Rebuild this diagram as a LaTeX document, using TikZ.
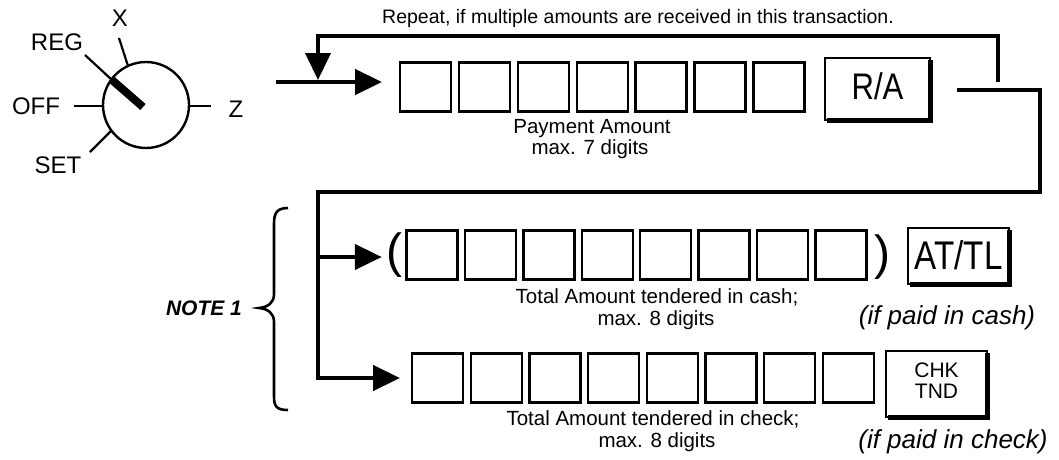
\documentclass[tikz,border=0pt]{standalone}
\usepackage{fontspec}
\setmainfont{Liberation Sans}
\usepackage{graphicx}
\usetikzlibrary{arrows.meta}
\begin{document}
\begin{tikzpicture}[x=1pt,y=-1pt,
  conn/.style={line width=4.5pt, -{Triangle[length=27pt,width=25pt]}},
  digit/.style={draw, line width=2.4pt, minimum width=51pt, minimum height=49pt, inner sep=0pt, outer sep=0pt},
  keybox/.style={draw, line width=2.4pt, inner sep=0pt, outer sep=0pt},
  keyshadow/.style={line width=5pt},
  txt/.style={font=\fontsize{20.5}{18.5}\selectfont, inner sep=0pt, anchor=base},
  dial/.style={font=\fontsize{24}{24}\selectfont, inner sep=0pt},
  tick/.style={line width=2.2pt},
  paren/.style={font=\fontsize{48}{48}\selectfont, inner sep=0pt},
  ifnote/.style={font=\fontsize{26}{26}\selectfont\itshape, inner sep=0pt, anchor=base}
]
\fill[white] (0,0) rectangle (1059,459);
\useasboundingbox (0,0) rectangle (1059,459);

% ---- mode dial ----
\node[circle, draw, line width=2.4pt, minimum size=86pt, inner sep=0pt] (dialc) at (146,105) {};
\draw[tick] (119,38) -- (128,66);
\draw[tick] (85,55) -- (112,80);
\draw[line width=8pt] (112,80) -- (143,107);
\draw[tick] (74,106) -- (103,106);
\draw[tick] (189,106) -- (211,106);
\draw[tick] (90,152) -- (111,131);
\node[dial] (lx) at (120,18) {X};
\node[dial] (lreg) at (57,42) {REG};
\node[dial] (loff) at (36,106) {OFF};
\node[dial] (lz) at (236,109) {Z};
\node[dial] (lset) at (58,165) {SET};

% ---- payment row ----
\foreach \i in {1,...,7} \node[digit] (p\i) at ({425.5+58.9*(\i-1)},87) {};
\node[keybox, minimum width=105pt, minimum height=62pt] (ra) at (877.5,89)
  {\raisebox{5pt}{\scalebox{0.84}[1]{\fontsize{37}{37}\selectfont R/A}}};
\draw[keyshadow] ([xshift=2pt]ra.south west) -| ([yshift=-2pt]ra.north east);

\node[txt] (pay1) at (592,133) {Payment Amount};
\node[txt] (pay2) at (590,154) {max. 7 digits};
\node[font=\fontsize{19.5}{19.5}\selectfont, inner sep=0pt, anchor=base] (rep) at (638,23)
  {Repeat, if multiple amounts are received in this transaction.};

% entry and repeat loop
\coordinate (entry) at (276,82);
\draw[conn, shorten >=18pt] (entry) -- (entry -| p1.west);
\coordinate (fbR) at (998,82);
\coordinate (fbIn) at (318,80);
\draw[conn, line width=4pt] (fbR) -- ++(0,-46) -| (fbIn);

% ---- cash row ----
\node[paren] (lp) at (394,255) {(};
\foreach \i in {1,...,8} \node[digit] (c\i) at ({432+58.4*(\i-1)},255) {};
\node[paren] (rp) at (882,257) {)};
\node[keybox, minimum width=101pt, minimum height=56pt] (attl) at (958.5,256)
  {\raisebox{3pt}{\scalebox{0.83}[1]{\fontsize{40}{40}\selectfont AT/TL}}};
\draw[keyshadow] ([xshift=2pt]attl.south west) -| ([yshift=-2pt]attl.north east);
\node[txt] (cash1) at (657,303) {Total Amount tendered in cash;};
\node[txt] (cash2) at (656,325) {max. 8 digits};
\node[ifnote] (ifcash) at (947,324) {(if paid in cash)};

% ---- check row ----
\foreach \i in {1,...,8} \node[digit] (k\i) at ({437.5+58.7*(\i-1)},378) {};
\node[keybox, minimum width=101pt, minimum height=66pt] (chk) at (936.5,384)
  {\raisebox{6pt}{\fontsize{21}{21}\selectfont\begin{tabular}{@{}c@{}}CHK\\TND\end{tabular}}};
\draw[keyshadow] ([xshift=2pt]chk.south west) -| ([yshift=-2pt]chk.north east);
\node[txt] (chk1) at (653,425) {Total Amount tendered in check;};
\node[txt] (chk2) at (657,447) {max. 8 digits};
\node[ifnote] (ifchk) at (953,448) {(if paid in check)};

% ---- exit from R/A and branches ----
\coordinate (exR) at (957,90);
\coordinate (trunk) at (318,192);
\draw[conn, shorten >=12pt] (exR) -- ++(83,0) |- (trunk) |- (k1.west);
\coordinate (cbr) at (318,257);
\draw[conn, shorten >=4pt] (cbr) -- (cbr -| lp.west);

% ---- NOTE 1 brace ----
\draw[line width=2.6pt] (288,208) .. controls (276,208) and (274,214) .. (274,224) -- (274,294)
  .. controls (274,303) and (268,307) .. (259,308)
  .. controls (268,309) and (274,313) .. (274,322) -- (274,396)
  .. controls (274,406) and (276,410) .. (288,410);
\node[font=\fontsize{21}{21}\selectfont\bfseries\itshape, inner sep=0pt] (note) at (204,308) {NOTE 1};
\end{tikzpicture}
\end{document}
